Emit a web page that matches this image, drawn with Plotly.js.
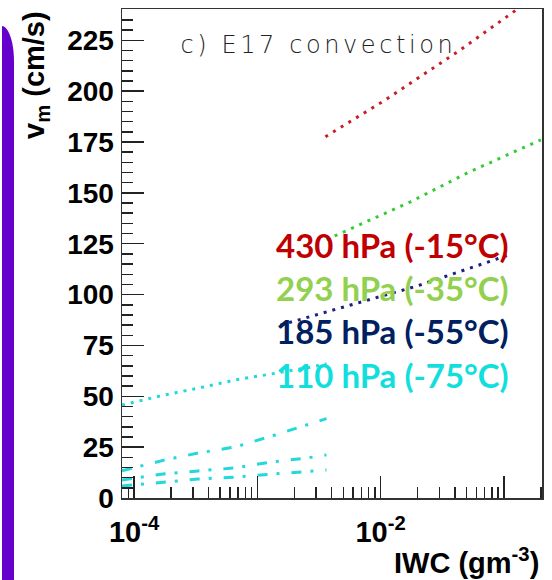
<!DOCTYPE html>
<html>
<head>
<meta charset="utf-8">
<script src="https://cdn.plot.ly/plotly-3.0.1.min.js"></script>
<style>
  html, body { margin: 0; padding: 0; background: #fff; }
  #chart { width: 552px; height: 580px; }
  g.annotation[data-index="4"] text { letter-spacing: 3.6px; }
</style>
</head>
<body>
<div id="chart"></div>
<script>
// Ice water content grid for the 110 hPa curves (g m^-3)
const iwc110 = [7.98e-5, 1.72e-4, 3.31e-4, 6.62e-4, 1.30e-3, 2.55e-3, 3.64e-3];
// Terminal fall speeds v_m (cm/s) at 110 hPa, four parameterisations
const v110Dot = [45.7, 50.5, 54.0, 58.0, 61.0, 64.0, 66.0];
const v110DashA = [13.4, 18.5, 22.1, 25.1, 30.4, 35.9, 39.0];
const v110DashB = [8.9, 11.8, 13.3, 14.8, 17.7, 19.7, 21.2];
const v110DashC = [5.9, 7.9, 9.3, 10.3, 11.8, 13.3, 13.8];

// Higher pressure levels
const iwc430 = [3.57e-3, 1.10e-2, 4.47e-2, 0.13];
const v430 = [177.6, 195.8, 220.4, 240.5];
const iwc293 = [3.64e-3, 1.75e-2, 5.09e-2, 0.2];
const v293 = [127.0, 145.6, 159.9, 176.1];
const iwc185 = [1.54e-3, 1.0e-2, 2.0e-2, 0.11];
const v185 = [85.0, 99.0, 104.3, 119.5];

// Legend labels
const levelLabels = ['430 hPa (-15°C)', '293 hPa (-35°C)', '185 hPa (-55°C)', '110 hPa (-75°C)'];
const levelTextColors = ['#C00000', '#92D050', '#002060', '#12DEDE'];
const lineColors = {l430: '#C81E28', l293: '#33CC33', l185: '#1E1E82', l110: '#22D8D8'};

// X tick positions: labelled decades, unlabelled decades, and 2..9 sub-ticks
const xLabelled = [1e-4, 1e-2];
const xLabelledText = ['10<sup>-4</sup>', '10<sup>-2</sup>'];
const xPlainDecades = [1e-3, 1e-1];
const xMinor = [];
[1e-5, 1e-4, 1e-3, 1e-2, 1e-1].forEach(d => {
  for (let k = 2; k <= 9; k++) xMinor.push(k * d);
});

// plot frame in pixels (used for placing paper-referenced items)
const W = 552, H = 580;
const M = {l: 122, r: 10, t: 9, b: 82};
const PW = W - M.l - M.r, PH = H - M.t - M.b;
const px = X => (X - M.l) / PW;
const py = Y => (H - M.b - Y) / PH;

const DOT = '3px,6px';
const DASHDOT = '10px,9px,3px,12px';

function line(x, y, color, dash) {
  return {x, y, type: 'scatter', mode: 'lines',
    line: {color, width: 3, dash}, hoverinfo: 'skip', showlegend: false};
}

const traces = [
  // transparent copy on the companion x axis that carries the long unlabelled decade ticks
  {x: iwc185, y: v185, type: 'scatter', mode: 'lines', xaxis: 'x2',
   line: {color: 'rgba(0,0,0,0)', width: 0}, hoverinfo: 'skip', showlegend: false},
  line(iwc430, v430, lineColors.l430, DOT),
  line(iwc293, v293, lineColors.l293, DOT),
  line(iwc185, v185, lineColors.l185, DOT),
  line(iwc110, v110Dot, lineColors.l110, DOT),
  line(iwc110, v110DashA, lineColors.l110, DASHDOT),
  line(iwc110, v110DashB, lineColors.l110, DASHDOT),
  line(iwc110, v110DashC, lineColors.l110, DASHDOT)
];

const tickFont = {family: 'Liberation Sans, Arial, sans-serif', size: 28, color: '#000', weight: 700};

const legendRows = [245, 288, 331, 375];
const annotations = levelLabels.map((t, i) => ({
  text: t, xref: 'paper', yref: 'paper', x: px(274), y: py(legendRows[i]),
  xanchor: 'left', yanchor: 'middle', showarrow: false,
  font: {family: 'Lato, sans-serif', size: 33, weight: 700, color: levelTextColors[i]}
}));
annotations.push({
  text: 'c) E17 convection', xref: 'paper', yref: 'paper', x: px(318), y: py(45),
  xanchor: 'center', yanchor: 'middle', showarrow: false,
  font: {family: 'DejaVu Sans, Lato, sans-serif', size: 24, weight: 200, color: '#222'}
});
annotations.push({
  text: 'IWC (gm<sup>-3</sup>)', xref: 'paper', yref: 'paper', x: px(541), y: py(561),
  xanchor: 'right', yanchor: 'middle', showarrow: false,
  font: {family: 'Liberation Sans, Arial, sans-serif', size: 29, weight: 700, color: '#000'}
});
annotations.push({
  text: 'v<sub>m</sub> (cm/s)', xref: 'paper', yref: 'paper', x: px(36), y: py(75),
  xanchor: 'center', yanchor: 'middle', textangle: -90, showarrow: false,
  font: {family: 'Liberation Sans, Arial, sans-serif', size: 29, weight: 700, color: '#000'}
});

const xRange = [-4.098, -0.69];
const layout = {
  width: W, height: H,
  margin: M,
  paper_bgcolor: '#fff', plot_bgcolor: '#fff',
  showlegend: false,
  xaxis: {
    type: 'log', range: xRange,
    showline: true, mirror: true, linecolor: '#333', linewidth: 1.5,
    showgrid: false, zeroline: false,
    tickmode: 'array', tickvals: xLabelled, ticktext: xLabelledText,
    ticks: 'inside', ticklen: 22, tickwidth: 1.5, tickcolor: '#222',
    ticklabelstandoff: 8,
    tickfont: Object.assign({}, tickFont, {size: 29}),
    minor: {tickmode: 'array', tickvals: xMinor, ticks: 'inside', ticklen: 11, tickwidth: 1.5, tickcolor: '#222', showgrid: false}
  },
  xaxis2: {
    type: 'log', range: xRange, overlaying: 'x', anchor: 'y', side: 'bottom',
    showline: false, showgrid: false, zeroline: false, showticklabels: false,
    tickmode: 'array', tickvals: xPlainDecades,
    ticks: 'inside', ticklen: 22, tickwidth: 1.5, tickcolor: '#222'
  },
  yaxis: {
    range: [0, 240.4],
    showline: true, mirror: true, linecolor: '#333', linewidth: 1.5,
    showgrid: false, zeroline: false,
    tick0: 0, dtick: 25,
    ticks: 'inside', ticklen: 22, tickwidth: 1.5, tickcolor: '#222',
    ticklabelstandoff: 1,
    tickfont: tickFont,
    minor: {dtick: 5, ticks: 'inside', ticklen: 11, tickwidth: 1.5, tickcolor: '#222', showgrid: false}
  },
  annotations,
  shapes: [{
    type: 'path', xref: 'paper', yref: 'paper', layer: 'above',
    path: `M ${px(2)} ${py(582)} L ${px(2)} ${py(26)} C ${px(7)} ${py(26)} ${px(14)} ${py(38)} ${px(14)} ${py(62)} L ${px(14)} ${py(582)} Z`,
    fillcolor: '#6600CC', line: {width: 0}
  }]
};

Plotly.newPlot('chart', traces, layout, {displayModeBar: false, staticPlot: true});
</script>
</body>
</html>
